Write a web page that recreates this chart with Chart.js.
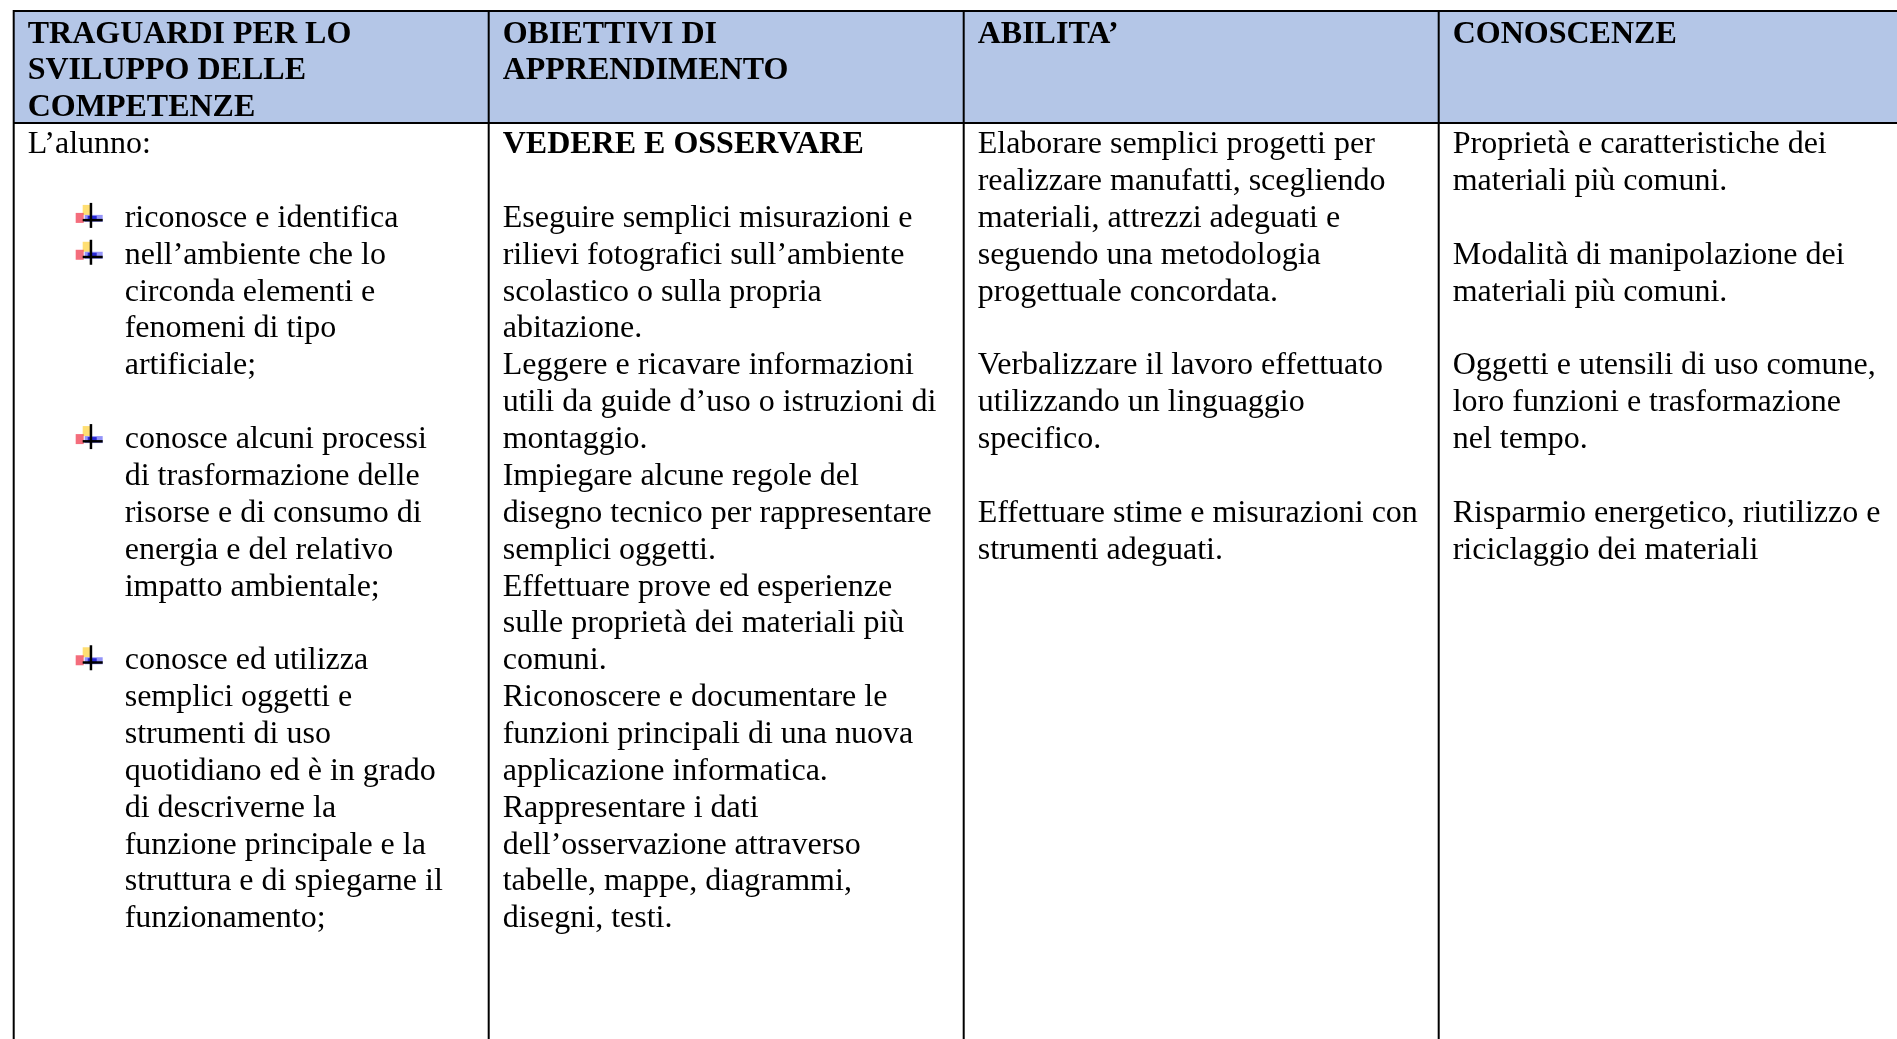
<!DOCTYPE html>
<html>
<head>
<meta charset="utf-8">
<script src="https://cdn.jsdelivr.net/npm/chart.js@4.4.1/dist/chart.umd.min.js"></script>
<style>
  html, body { margin: 0; padding: 0; background: #fff; overflow: hidden; }
  #tableChart { display: block; }
</style>
</head>
<body>
<canvas id="tableChart" width="1930" height="1039"></canvas>
<script>
// column headers (one entry per header line)
const headers = [
    ["TRAGUARDI PER LO", "SVILUPPO DELLE", "COMPETENZE"],
    ["OBIETTIVI DI", "APPRENDIMENTO"],
    ["ABILITA’"],
    ["CONOSCENZE"]
];

// body text, one entry per text line ("" = empty line)
const col1 = [
    "L’alunno:",
    "",
    "riconosce e identifica",
    "nell’ambiente che lo",
    "circonda elementi e",
    "fenomeni di tipo",
    "artificiale;",
    "",
    "conosce alcuni processi",
    "di trasformazione delle",
    "risorse e di consumo di",
    "energia e del relativo",
    "impatto ambientale;",
    "",
    "conosce ed utilizza",
    "semplici oggetti e",
    "strumenti di uso",
    "quotidiano ed è in grado",
    "di descriverne la",
    "funzione principale e la",
    "struttura e di spiegarne il",
    "funzionamento;"
];
const col1Bullets = [2, 3, 8, 14];
const col1Indented = [2, 3, 4, 5, 6, 8, 9, 10, 11, 12, 14, 15, 16, 17, 18, 19, 20, 21];

const col2 = [
    "VEDERE E OSSERVARE",
    "",
    "Eseguire semplici misurazioni e",
    "rilievi fotografici sull’ambiente",
    "scolastico o sulla propria",
    "abitazione.",
    "Leggere e ricavare informazioni",
    "utili da guide d’uso o istruzioni di",
    "montaggio.",
    "Impiegare alcune regole del",
    "disegno tecnico per rappresentare",
    "semplici oggetti.",
    "Effettuare prove ed esperienze",
    "sulle proprietà dei materiali più",
    "comuni.",
    "Riconoscere e documentare le",
    "funzioni principali di una nuova",
    "applicazione informatica.",
    "Rappresentare i dati",
    "dell’osservazione attraverso",
    "tabelle, mappe, diagrammi,",
    "disegni, testi."
];
const col2Bold = [0];

const col3 = [
    "Elaborare semplici progetti per",
    "realizzare manufatti, scegliendo",
    "materiali, attrezzi adeguati e",
    "seguendo una metodologia",
    "progettuale concordata.",
    "",
    "Verbalizzare il lavoro effettuato",
    "utilizzando un linguaggio",
    "specifico.",
    "",
    "Effettuare stime e misurazioni con",
    "strumenti adeguati."
];

const col4 = [
    "Proprietà e caratteristiche dei",
    "materiali più comuni.",
    "",
    "Modalità di manipolazione dei",
    "materiali più comuni.",
    "",
    "Oggetti e utensili di uso comune,",
    "loro funzioni e trasformazione",
    "nel tempo.",
    "",
    "Risparmio energetico, riutilizzo e",
    "riciclaggio dei materiali"
];

// y axis is measured in text lines (integer = baseline of that line)
const headerBand = [-0.857, 2.18];
const bodyStart = 3;
const yMax = 27.03;

const columns = [col1, col2, col3, col4];
const boldLines = [[], col2Bold, [], []];

const FONT = '"Liberation Serif", "Times New Roman", serif';

// draws borders, text and bullets on top of the header bars
const tablePlugin = {
    id: 'tablePlugin',
    afterDatasetsDraw(chart) {
        let ctx = chart.ctx;
        let x = chart.scales.x;
        let y = chart.scales.y;
        let area = chart.chartArea;
        let colW = (x.right - x.left) / headers.length;

        ctx.save();

        // grid lines
        ctx.strokeStyle = "#000";
        ctx.lineWidth = 2;
        ctx.beginPath();
        for (let i = 0; i < headers.length; i++) {
            let left = x.getPixelForValue(i) - colW / 2;
            ctx.moveTo(left, area.top);
            ctx.lineTo(left, area.bottom);
        }
        ctx.moveTo(area.left - 1, y.getPixelForValue(headerBand[0]));
        ctx.lineTo(area.right, y.getPixelForValue(headerBand[0]));
        ctx.moveTo(area.left - 1, y.getPixelForValue(headerBand[1]));
        ctx.lineTo(area.right, y.getPixelForValue(headerBand[1]));
        ctx.stroke();

        ctx.fillStyle = "#000";
        ctx.textBaseline = "alphabetic";
        ctx.textAlign = "left";

        // header text
        ctx.font = "bold 32px " + FONT;
        for (let i = 0; i < headers.length; i++) {
            let left = x.getPixelForValue(i) - colW / 2;
            for (let j = 0; j < headers[i].length; j++) {
                ctx.fillText(headers[i][j], left + 14, y.getPixelForValue(j));
            }
        }

        // body text
        for (let i = 0; i < columns.length; i++) {
            let left = x.getPixelForValue(i) - colW / 2;
            for (let j = 0; j < columns[i].length; j++) {
                if (columns[i][j] === "") continue;
                let bold = boldLines[i].includes(j);
                ctx.font = (bold ? "bold " : "") + "32px " + FONT;
                let indent = (i === 0 && col1Indented.includes(j)) ? 111 : 14;
                ctx.fillText(columns[i][j], left + indent, y.getPixelForValue(bodyStart + j));
            }
        }

        // bullets (small coloured cross)
        let left1 = x.getPixelForValue(0) - colW / 2;
        for (let k = 0; k < col1Bullets.length; k++) {
            let by = y.getPixelForValue(bodyStart + col1Bullets[k]);
            let bx = left1 + 77;
            ctx.fillStyle = "rgba(255, 215, 80, 0.8)";
            ctx.fillRect(bx - 8, by - 22, 9, 10);
            ctx.fillStyle = "rgba(240, 60, 80, 0.75)";
            ctx.fillRect(bx - 15, by - 14, 8, 10);
            ctx.fillStyle = "rgba(90, 90, 245, 0.65)";
            ctx.fillRect(bx - 6, by - 12, 18, 7);
            ctx.fillStyle = "rgba(30, 30, 210, 0.9)";
            ctx.fillRect(bx - 3, by - 11, 9, 5);
            ctx.fillStyle = "#000";
            ctx.fillRect(bx - 1, by - 24, 2.5, 25);
            ctx.fillRect(bx - 8, by - 8, 20, 2.5);
        }

        ctx.restore();
    }
};

let ctx1 = document.getElementById("tableChart").getContext("2d");
let tableChart = new Chart(ctx1, {
    type: "bar",
    data: {
        labels: headers.map(h => h.join(" ")),
        datasets: [{
            label: "intestazione",
            data: headers.map(() => headerBand),
            backgroundColor: "#b4c6e7",
            borderWidth: 0,
            barPercentage: 1,
            categoryPercentage: 1
        }]
    },
    options: {
        responsive: false,
        animation: false,
        layout: { padding: { left: 13.7, top: 11, right: 16.3, bottom: 0 } },
        plugins: {
            legend: { display: false },
            tooltip: { enabled: false }
        },
        scales: {
            x: { display: false },
            y: { display: false, reverse: true, min: headerBand[0], max: yMax }
        }
    },
    plugins: [tablePlugin]
});
</script>
</body>
</html>
